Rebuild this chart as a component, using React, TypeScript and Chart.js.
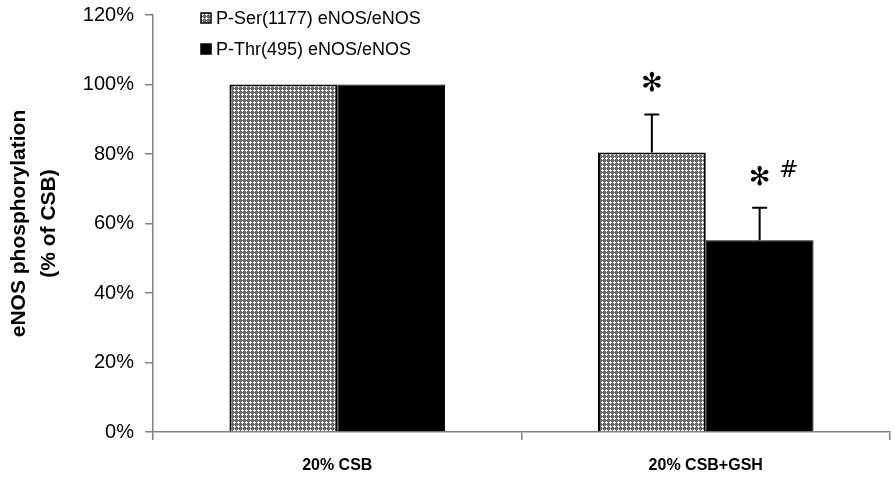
import { useEffect, useRef } from 'react';
import { Chart, registerables } from 'chart.js';

Chart.register(...registerables);

const categories = ['20% CSB', '20% CSB+GSH'];
const seriesNames = ['P-Ser(1177) eNOS/eNOS', 'P-Thr(495) eNOS/eNOS'];
const serValues = [100, 80.4];
const thrValues = [100, 55.2];
const serErrors = [0, 11];
const thrErrors = [0, 9.3];
const serStar = [false, true];
const thrStar = [false, true];
const thrHash = [false, true];
const yTicks = [0, 20, 40, 60, 80, 100, 120];

function makePattern(): CanvasPattern | string {
  const c = document.createElement('canvas');
  c.width = 4;
  c.height = 4;
  const g = c.getContext('2d');
  if (!g) return '#999';
  g.fillStyle = '#6a6a6a';
  g.fillRect(0, 0, 4, 4);
  g.fillStyle = '#ffffff';
  [[2, 1], [1, 2], [2, 2], [3, 2], [2, 3]].forEach(([x, y]) => g.fillRect(x, y, 1, 1));
  const p = g.createPattern(c, 'repeat');
  return p || '#999';
}

export default function App() {
  const ref = useRef<HTMLCanvasElement>(null);
  useEffect(() => {
    if (!ref.current) return;
    const pattern = makePattern();
    const overlay = {
      id: 'overlay',
      afterDatasetsDraw(chart: any) {
        const ctx = chart.ctx;
        const y = chart.scales.y;
        const sets = [
          { vals: serValues, errs: serErrors, star: serStar, hash: null as boolean[] | null },
          { vals: thrValues, errs: thrErrors, star: thrStar, hash: thrHash },
        ];
        ctx.save();
        sets.forEach((s, di) => {
          const meta = chart.getDatasetMeta(di);
          meta.data.forEach((bar: any, i: number) => {
            const x = bar.x;
            const yv = y.getPixelForValue(s.vals[i]);
            const ye = y.getPixelForValue(s.vals[i] + s.errs[i]);
            if (s.errs[i] > 0) {
              ctx.strokeStyle = '#000';
              ctx.lineWidth = 2;
              ctx.beginPath();
              ctx.moveTo(x, yv);
              ctx.lineTo(x, ye);
              ctx.moveTo(x - 7.5, ye);
              ctx.lineTo(x + 7.5, ye);
              ctx.stroke();
            }
            ctx.fillStyle = '#000';
            ctx.textAlign = 'center';
            ctx.textBaseline = 'middle';
            if (s.star[i]) {
              ctx.font = '26px "DejaVu Sans"';
              ctx.fillText('✻', x, ye - 30);
            }
            if (s.hash && s.hash[i]) {
              ctx.font = 'italic 23px "DejaVu Sans"';
              ctx.fillText('#', x + 29, ye - 37);
            }
          });
        });
        // legend
        ctx.textAlign = 'left';
        ctx.textBaseline = 'middle';
        ctx.font = '18px "Liberation Sans"';
        const lx = 201;
        const rows = [18, 49];
        const fills = [pattern, '#000'];
        rows.forEach((ry, k) => {
          ctx.fillStyle = fills[k];
          ctx.fillRect(lx, ry - 5, 10, 10);
          ctx.strokeStyle = '#000';
          ctx.lineWidth = 1.5;
          ctx.strokeRect(lx, ry - 5, 10, 10);
          ctx.fillStyle = '#000';
          ctx.fillText(seriesNames[k], lx + 15, ry + 1);
        });
        ctx.restore();
      },
    };
    const chart = new Chart(ref.current, {
      type: 'bar',
      data: {
        labels: categories,
        datasets: [
          {
            label: seriesNames[0],
            data: serValues,
            backgroundColor: pattern as any,
            borderColor: '#000',
            borderWidth: 2,
            categoryPercentage: 0.585,
            barPercentage: 1,
          },
          {
            label: seriesNames[1],
            data: thrValues,
            backgroundColor: '#000',
            borderColor: '#000',
            borderWidth: 1,
            categoryPercentage: 0.585,
            barPercentage: 1,
          },
        ],
      },
      options: {
        animation: false,
        responsive: false,
        devicePixelRatio: 1,
        layout: { padding: { top: 15, right: 5, left: 0, bottom: 0 } },
        plugins: { legend: { display: false }, tooltip: { enabled: false } },
        scales: {
          x: {
            grid: { drawOnChartArea: false, drawTicks: true, tickLength: 8, color: '#808080', lineWidth: 1.5, offset: true },
            border: { color: '#808080', width: 1.5 },
            ticks: { color: '#000', font: { family: 'Liberation Sans', size: 16, weight: 'bold' }, padding: 16 },
            afterFit: (s: any) => { s.height = 48; s.paddingLeft = 0; s.paddingRight = 0; },
          },
          y: {
            min: 0,
            max: 120,
            afterBuildTicks: (s: any) => { s.ticks = yTicks.map((v) => ({ value: v })); },
            grid: { drawOnChartArea: false, drawTicks: true, tickLength: 8, color: '#808080', lineWidth: 1.5 },
            border: { color: '#808080', width: 1.5 },
            ticks: {
              color: '#000',
              font: { family: 'Liberation Sans', size: 20 },
              padding: 11,
              callback: (v: any) => v + '%',
            },
            title: {
              display: true,
              text: ['eNOS phosphorylation', '(% of CSB)'],
              color: '#000',
              font: { family: 'Liberation Sans', size: 21, weight: 'bold', lineHeight: 1.45 },
              padding: { top: 4, bottom: 0 },
            },
            afterFit: (s: any) => { s.width = 153; s.paddingTop = 0; s.paddingBottom = 0; },
          },
        },
      },
      plugins: [overlay],
    });
    return () => chart.destroy();
  }, []);
  return (
    <div style={{ position: 'fixed', left: 0, top: 0, width: 895, height: 480, background: '#fff' }}>
      <canvas ref={ref} width={895} height={480} style={{ width: 895, height: 480 }} />
    </div>
  );
}
